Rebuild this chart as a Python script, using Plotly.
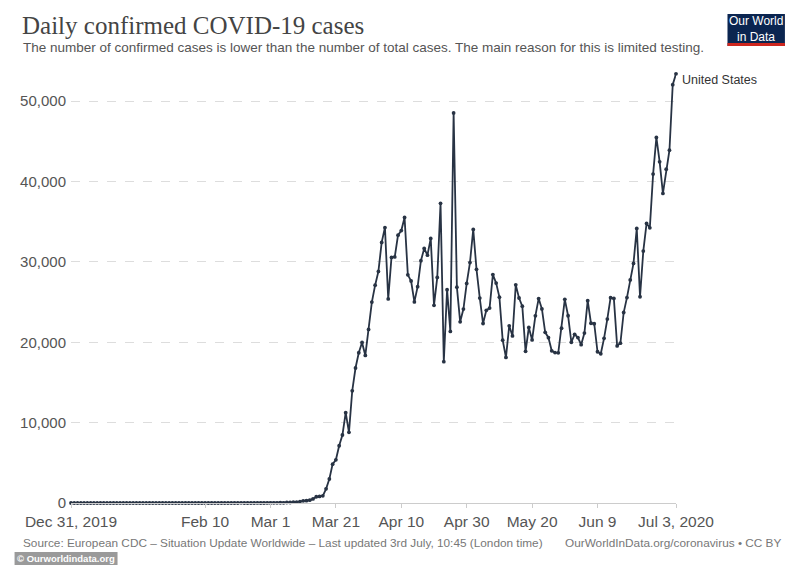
import pandas as pd
import plotly.graph_objects as go

# ---- data ----
dates = pd.date_range("2019-12-31", "2020-07-03", freq="D")

cases_dec = [0]
cases_jan = [0, 0, 0, 0, 0, 0, 0, 0, 0, 0, 0, 0, 0, 0, 0, 0, 0, 0, 0, 0,
             1, 0, 0, 1, 0, 3, 0, 0, 0, 0, 1]
cases_feb = [1, 1, 3, 0, 0, 1, 0, 0, 0, 0, 1, 0, 1, 0, 0, 0, 0, 0, 0, 0,
             20, 0, 0, 0, 0, 6, 0, 1, 8]
cases_mar = [7, 23, 19, 33, 20, 65, 60, 121, 116, 180, 271, 287, 351, 511, 777,
             823, 887, 1766, 2988, 4835, 5374, 7123, 8459, 11236, 8789, 13963,
             16797, 18695, 19979, 18360, 21595]
cases_apr = [24998, 27103, 28819, 32425, 34272, 25398, 30561, 30613, 33323, 33901,
             35527, 28391, 27620, 25023, 26922, 30148, 31667, 30833, 32922, 24601,
             28065, 37289, 17588, 26543, 21352, 48529, 26857, 22541, 24132, 27326]
cases_may = [29917, 34037, 29078, 25501, 22335, 23976, 24252, 28420, 27367, 25612,
             20258, 18117, 22048, 20782, 27143, 25508, 24487, 18873, 21841, 20289,
             23285, 25434, 24147, 21236, 20568, 18937, 18720, 18691, 21743, 25337,
             23297]
cases_jun = [20000, 20992, 20578, 19699, 21140, 25178, 22365, 22302, 18822, 18571,
             20486, 22883, 25546, 25450, 19543, 19891, 23700, 25559, 27762, 29810,
             34160, 25660, 31340, 34780, 34240, 40920, 45480, 42450, 38520, 41540]
cases_jul = [43900, 52050, 53400]

cases = cases_dec + cases_jan + cases_feb + cases_mar + cases_apr + cases_may + cases_jun + cases_jul

tick_dates = ["2019-12-31", "2020-02-10", "2020-03-01", "2020-03-21", "2020-04-10",
              "2020-04-30", "2020-05-20", "2020-06-09", "2020-07-03"]
tick_labels = ["Dec 31, 2019", "Feb 10", "Mar 1", "Mar 21", "Apr 10",
               "Apr 30", "May 20", "Jun 9", "Jul 3, 2020"]
y_ticks = [0, 10000, 20000, 30000, 40000, 50000]
y_labels = ["0", "10,000", "20,000", "30,000", "40,000", "50,000"]
series_name = "United States"

# ---- layout geometry (page pixels; the page body adds an 8px offset) ----
OFF = 8
W, H = 800 - OFF, 565 - OFF
PL, PR, PT, PB = 65, 676, 69, 503          # plot box in page pixels
L, T = PL - OFF, PT - OFF
R, B = (800 - PR), (565 - PB)
pw, ph = PR - PL, PB - PT

def px(x):
    return (x - PL) / pw

def py(y):
    return (PB - y) / ph

LINE = "#283344"
SANS = "Liberation Sans, Arial, sans-serif"

fig = go.Figure()
fig.add_trace(go.Scatter(
    x=dates, y=cases, mode="lines+markers", name=series_name,
    line=dict(color=LINE, width=1.8),
    marker=dict(color=LINE, size=3.8),
    cliponaxis=False, showlegend=False,
))

fig.update_layout(
    width=W, height=H,
    margin=dict(l=L, r=R, t=T, b=B),
    paper_bgcolor="white", plot_bgcolor="white",
    font=dict(family=SANS, color="#555"),
    xaxis=dict(
        range=[pd.Timestamp("2019-12-31"), pd.Timestamp("2020-07-03")],
        tickvals=pd.to_datetime(tick_dates), ticktext=tick_labels,
        showgrid=False, zeroline=False,
        showline=True, linecolor="#cccccc", linewidth=1,
        ticks="outside", ticklen=4, tickcolor="#cccccc",
        tickfont=dict(size=15.5, color="#555", family=SANS),
        fixedrange=True,
    ),
    yaxis=dict(
        range=[0, 54000],
        tickvals=y_ticks, ticktext=y_labels,
        showgrid=True, gridcolor="#dddddd", griddash="dash", gridwidth=1,
        zeroline=False, showline=False, ticks="",
        tickfont=dict(size=15, color="#555", family=SANS),
        ticklabelstandoff=4,
    ),
)

ann = []
ann.append(dict(text="Daily confirmed COVID-19 cases", x=px(14), y=py(25),
                xref="paper", yref="paper", xanchor="left", yanchor="middle",
                showarrow=False, borderpad=0,
                font=dict(family="Liberation Serif, DejaVu Serif, serif", size=25, color="#444")))
ann.append(dict(text="The number of confirmed cases is lower than the number of total cases. The main reason for this is limited testing.",
                x=px(14), y=py(47), xref="paper", yref="paper",
                xanchor="left", yanchor="middle", showarrow=False,
                font=dict(family=SANS, size=13.5, color="#555")))
ann.append(dict(text=series_name, x=px(680), y=py(80), xref="paper", yref="paper",
                xanchor="left", yanchor="middle", showarrow=False,
                font=dict(family=SANS, size=12.5, color="#333")))
ann.append(dict(text="Source: European CDC – Situation Update Worldwide – Last updated 3rd July, 10:45 (London time)",
                x=px(14), y=py(543), xref="paper", yref="paper",
                xanchor="left", yanchor="middle", showarrow=False,
                font=dict(family=SANS, size=11.8, color="#777")))
ann.append(dict(text="OurWorldInData.org/coronavirus • CC BY",
                x=px(784), y=py(543), xref="paper", yref="paper",
                xanchor="right", yanchor="middle", showarrow=False,
                font=dict(family=SANS, size=11.8, color="#777")))
# logo text
ann.append(dict(text="Our World", x=px(757), y=py(29.5), xref="paper", yref="paper",
                xanchor="center", yanchor="bottom", showarrow=False, borderpad=0,
                font=dict(family=SANS, size=12, color="white")))
ann.append(dict(text="in Data", x=px(757), y=py(29.5), xref="paper", yref="paper",
                xanchor="center", yanchor="top", showarrow=False, borderpad=0,
                font=dict(family=SANS, size=12, color="white")))
# watermark
ann.append(dict(text="<b>© Ourworldindata.org</b>", x=px(9), y=py(558.5), xref="paper", yref="paper",
                xanchor="left", yanchor="middle", showarrow=False, borderpad=0,
                font=dict(family=SANS, size=9.5, color="white")))
fig.update_layout(annotations=ann)

shapes = [
    dict(type="rect", xref="paper", yref="paper", x0=px(728), x1=px(786), y0=py(14), y1=py(46),
         fillcolor="#0b2550", line=dict(width=0), layer="below"),
    dict(type="rect", xref="paper", yref="paper", x0=px(728), x1=px(786), y0=py(43), y1=py(46),
         fillcolor="#ce261e", line=dict(width=0), layer="below"),
    dict(type="rect", xref="paper", yref="paper", x0=px(8), x1=px(112), y0=py(552), y1=py(565),
         fillcolor="#9a9a9a", line=dict(width=0), layer="below"),
]
fig.update_layout(shapes=shapes)

fig.write_html("out.html")
